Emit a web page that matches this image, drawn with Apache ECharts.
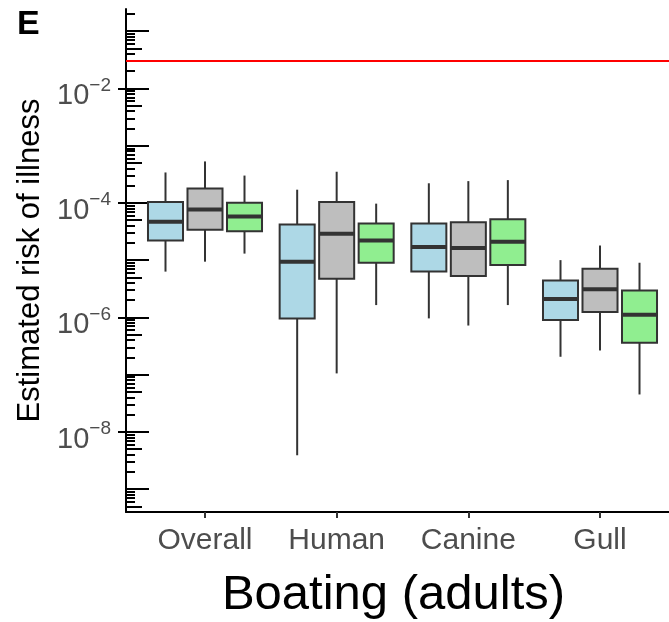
<!DOCTYPE html>
<html>
<head>
<meta charset="utf-8">
<script src="https://cdn.jsdelivr.net/npm/echarts@6/dist/echarts.min.js"></script>
<style>
  html, body { margin: 0; padding: 0; background: #fff; }
  #chart { width: 669px; height: 622px; }
</style>
</head>
<body>
<div id="chart"></div>
<script>
// sources along x
var categories = ['Overall', 'Human', 'Canine', 'Gull'];
// box stats per source: [min, q1, median, q3, max]
var blueStats = [
    [6.3e-6, 2.2e-5, 4.7e-5, 1.04e-4, 3.4e-4],
    [3.9e-9, 9.6e-7, 9.4e-6, 4.2e-5, 1.7e-4],
    [9.6e-7, 6.3e-6, 1.7e-5, 4.35e-5, 2.2e-4],
    [2.05e-7, 9.0e-7, 2.1e-6, 4.4e-6, 1.0e-5]
];
var greyStats = [
    [9.4e-6, 3.4e-5, 7.7e-5, 1.78e-4, 5.3e-4],
    [1.05e-7, 4.75e-6, 2.9e-5, 1.04e-4, 3.5e-4],
    [7.2e-7, 5.3e-6, 1.63e-5, 4.6e-5, 2.4e-4],
    [2.64e-7, 1.24e-6, 3.1e-6, 7.1e-6, 1.8e-5]
];
var greenStats = [
    [1.3e-5, 3.2e-5, 5.8e-5, 1.01e-4, 3.0e-4],
    [1.64e-6, 9.0e-6, 2.2e-5, 4.35e-5, 9.7e-5],
    [1.64e-6, 8.2e-6, 2.1e-5, 5.2e-5, 2.5e-4],
    [4.5e-8, 3.6e-7, 1.11e-6, 2.96e-6, 9.0e-6]
];
var riskLimit = 0.032;

// y tick labels and log ticks
var labelExps = [-8, -6, -4, -2];
var decadeExps = [-10, -9, -8, -7, -6, -5, -4, -3, -2, -1];
var minorMults = [2, 3, 4, 6, 7, 8, 9];

var yMin = Math.pow(10, -9.40);
var yMax = Math.pow(10, -0.613);

function inRange(v) { return v >= yMin && v <= yMax; }
var labelVals = labelExps.map(function (e) { return Math.pow(10, e); });
var decadeVals = decadeExps.map(function (e) { return Math.pow(10, e); }).filter(inRange);
var fiveVals = decadeExps.map(function (e) { return 5 * Math.pow(10, e); }).filter(inRange);
var minorVals = [];
decadeExps.forEach(function (e) {
    minorMults.forEach(function (m) { minorVals.push(m * Math.pow(10, e)); });
});
minorVals = minorVals.filter(inRange);

var colors = ['#ADD8E6', '#BEBEBE', '#90EE90'];
var dodge = [-0.3, 0, 0.3];
var boxW = 0.266;
var font = "'Liberation Sans', Arial, sans-serif";

function toData(stats) {
    return stats.map(function (s, i) { return [i + 1].concat(s); });
}

function renderBox(params, api) {
    var x = api.value(0) + dodge[params.seriesIndex];
    var pMin = api.coord([x, api.value(1)]);
    var pQ1 = api.coord([x, api.value(2)]);
    var pMed = api.coord([x, api.value(3)]);
    var pQ3 = api.coord([x, api.value(4)]);
    var pMax = api.coord([x, api.value(5)]);
    var l = api.coord([x - boxW / 2, api.value(3)])[0];
    var r = api.coord([x + boxW / 2, api.value(3)])[0];
    var line = { stroke: '#333333', lineWidth: 2 };
    return {
        type: 'group',
        children: [
            { type: 'line', shape: { x1: pMin[0], y1: pMin[1], x2: pQ1[0], y2: pQ1[1] }, style: line },
            { type: 'line', shape: { x1: pQ3[0], y1: pQ3[1], x2: pMax[0], y2: pMax[1] }, style: line },
            { type: 'rect', shape: { x: l, y: pQ3[1], width: r - l, height: pQ1[1] - pQ3[1] },
              style: { fill: colors[params.seriesIndex], stroke: '#333333', lineWidth: 2 } },
            { type: 'line', shape: { x1: l, y1: pMed[1], x2: r, y2: pMed[1] },
              style: { stroke: '#333333', lineWidth: 4 } }
        ]
    };
}

function boxSeries(stats, idx) {
    var s = {
        type: 'custom',
        xAxisIndex: 0,
        yAxisIndex: 0,
        renderItem: renderBox,
        encode: { x: 0, y: [1, 2, 3, 4, 5] },
        data: toData(stats),
        clip: true,
        silent: true
    };
    if (idx === 0) {
        s.markLine = {
            silent: true,
            symbol: 'none',
            label: { show: false },
            lineStyle: { color: '#FF0000', width: 2, type: 'solid' },
            data: [{ yAxis: riskLimit }]
        };
    }
    return s;
}

function logAxis(extra) {
    var ax = {
        type: 'log',
        logBase: 10,
        min: yMin,
        max: yMax,
        position: 'left',
        splitLine: { show: false },
        axisLine: { show: false, onZero: false },
        axisLabel: { show: false },
        axisTick: { show: false }
    };
    for (var k in extra) ax[k] = extra[k];
    return ax;
}

var myChart = echarts.init(document.getElementById('chart'), null, { renderer: 'canvas' });
var option = {
    animation: false,
    backgroundColor: '#ffffff',
    title: {
        text: 'E',
        left: 12,
        top: 3,
        textStyle: { fontSize: 34, fontWeight: 'bold', color: '#000', fontFamily: font }
    },
    grid: { left: 126, right: 0, top: 9, bottom: 110, containLabel: false, outerBoundsMode: 'none' },
    xAxis: [
        {
            type: 'value',
            min: 0.4,
            max: 4.524,
            splitLine: { show: false },
            axisLine: { show: true, onZero: false, lineStyle: { color: '#000', width: 2 } },
            axisTick: { show: true, length: 6, customValues: [1, 2, 3, 4], lineStyle: { color: '#333', width: 2 } },
            axisLabel: {
                customValues: [1, 2, 3, 4],
                formatter: function (v) { return categories[Math.round(v) - 1] || ''; },
                fontSize: 30, color: '#4D4D4D', fontFamily: font, margin: 14
            },
            name: 'Boating (adults)',
            nameLocation: 'middle',
            nameGap: 59,
            nameTextStyle: { fontSize: 49, color: '#000', fontFamily: font, padding: [0, 8, 0, 0] }
        }
    ],
    yAxis: [
        logAxis({
            axisLine: { show: true, onZero: false, lineStyle: { color: '#000', width: 2 } },
            axisTick: { show: true, inside: false, length: 8, customValues: labelVals, lineStyle: { color: '#000', width: 2 } },
            axisLabel: {
                show: true,
                customValues: labelVals,
                margin: 15,
                padding: [10, 0, 0, 0],
                formatter: function (v) {
                    var e = Math.round(Math.log10(v));
                    return '{b|10}{s|\u2212' + Math.abs(e) + '}';
                },
                rich: {
                    b: { fontSize: 29, color: '#4D4D4D', fontFamily: font, lineHeight: 35, verticalAlign: 'bottom' },
                    s: { fontSize: 19, color: '#4D4D4D', fontFamily: font, lineHeight: 19, verticalAlign: 'top' }
                }
            },
            name: 'Estimated risk of illness',
            nameLocation: 'middle',
            nameRotate: 90,
            nameGap: 79,
            nameTextStyle: { fontSize: 31, color: '#000', fontFamily: font }
        }),
        logAxis({ axisTick: { show: true, inside: true, length: 23, customValues: decadeVals, lineStyle: { color: '#000', width: 2 } } }),
        logAxis({ axisTick: { show: true, inside: true, length: 16, customValues: fiveVals, lineStyle: { color: '#000', width: 2 } } }),
        logAxis({ axisTick: { show: true, inside: true, length: 9, customValues: minorVals, lineStyle: { color: '#000', width: 2 } } })
    ],
    series: [
        boxSeries(blueStats, 0),
        boxSeries(greyStats, 1),
        boxSeries(greenStats, 2)
    ]
};
myChart.setOption(option);
</script>
</body>
</html>
